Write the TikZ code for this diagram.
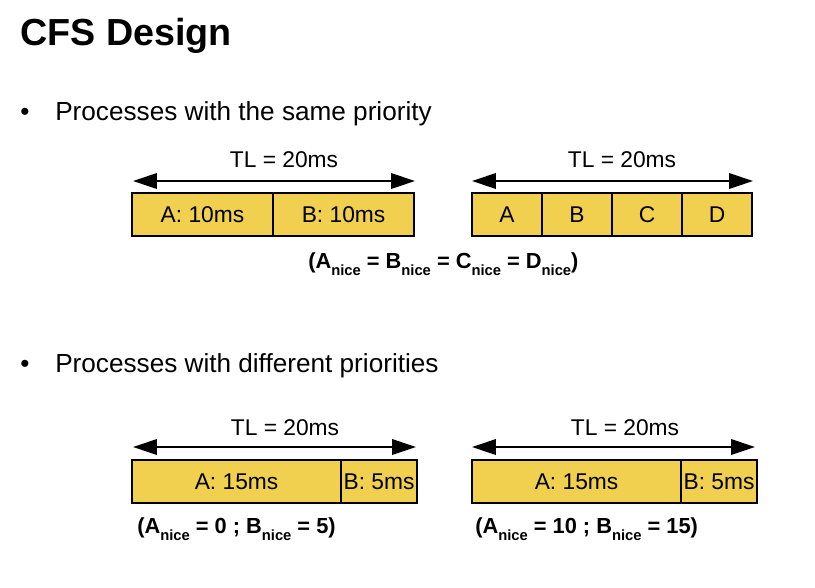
\documentclass[tikz,border=0pt]{standalone}
\usepackage{fontspec}
\setmainfont{Liberation Sans}
\usepackage{tikz}
\usetikzlibrary{arrows.meta, positioning}

\definecolor{cfsyellow}{RGB}{241,208,80}
\newcommand{\nicesub}[1]{#1\raisebox{-5pt}{\fontsize{10.5}{12}\selectfont nice}}

\begin{document}
\begin{tikzpicture}[
        x={(0.025cm,0)}, y={(0,-0.025cm)},
        cell/.style={draw, line width=1.4pt, fill=cfsyellow, minimum height=1.075cm, inner sep=0pt, outer sep=0pt, font=\fontsize{16.2}{19}\selectfont},
        tlarrow/.style={{Triangle[length=17pt,width=11pt]}-{Triangle[length=17pt,width=11pt]}, line width=1.4pt},
        tllabel/.style={font=\fontsize{16.2}{19}\selectfont},
        nicelabel/.style={anchor=base west, inner sep=0pt, font=\fontsize{15.5}{18}\selectfont\bfseries},
        bullet/.style={anchor=base west, inner sep=0pt, font=\fontsize{18.6}{22}\selectfont}
      ]
        \useasboundingbox (0,0) rectangle (815,587);

        % Title and bullets
        \node[anchor=base west, inner sep=0pt, font=\fontsize{26.8}{30}\selectfont\bfseries] (title) at (20,45) {CFS Design};
        \node[bullet] (dot1) at (20,120) {•};
        \node[bullet] (item1) at (55,120) {Processes with the same priority};
        \node[bullet] (dot2) at (20,372) {•};
        \node[bullet] (item2) at (55,372) {Processes with different priorities};

        % Same priority, two processes
        \node[cell, minimum width=3.525cm, anchor=west] (sa) at (132,214.5) {A: 10ms};
        \node[cell, minimum width=3.525cm, right=0pt of sa] (sb) {B: 10ms};
        \coordinate (sl) at (133,181);
        \coordinate (sr) at (415,181);
        \draw[tlarrow] (sl) -- (sr);
        \node[tllabel] (stl) at (284,160) {TL = 20ms};

        % Same priority, four processes
        \foreach \p [count=\i] in {A, B, C, D} {
            \node[cell, minimum width=1.75cm] (q\i) at (437+70*\i, 214.5) {\p};
        }
        \coordinate (ql) at (472,181);
        \coordinate (qr) at (753,181);
        \draw[tlarrow] (ql) -- (qr);
        \node[tllabel] (qtl) at (622,160) {TL = 20ms};

        \node[nicelabel] (qnice) at (308,268) {(\nicesub{A} = \nicesub{B} = \nicesub{C} = \nicesub{D})};

        % Different priorities, left
        \node[cell, minimum width=5.225cm, anchor=west] (da) at (132,481.5) {A: 15ms};
        \node[cell, minimum width=1.9cm, right=0pt of da] (db) {B: 5ms};
        \coordinate (dl) at (133,447);
        \coordinate (dr) at (416,447);
        \draw[tlarrow] (dl) -- (dr);
        \node[tllabel] (dtl) at (285,428) {TL = 20ms};
        \node[nicelabel] (dnice) at (137,533) {(\nicesub{A} = 0 ; \nicesub{B} = 5)};

        % Different priorities, right
        \node[cell, minimum width=5.225cm, anchor=west] (ea) at (472,481.5) {A: 15ms};
        \node[cell, minimum width=1.9cm, right=0pt of ea] (eb) {B: 5ms};
        \coordinate (el) at (472,447);
        \coordinate (er) at (755,447);
        \draw[tlarrow] (el) -- (er);
        \node[tllabel] (etl) at (625,428) {TL = 20ms};
        \node[nicelabel] (enice) at (475,533) {(\nicesub{A} = 10 ; \nicesub{B} = 15)};

    \end{tikzpicture}
\end{document}
